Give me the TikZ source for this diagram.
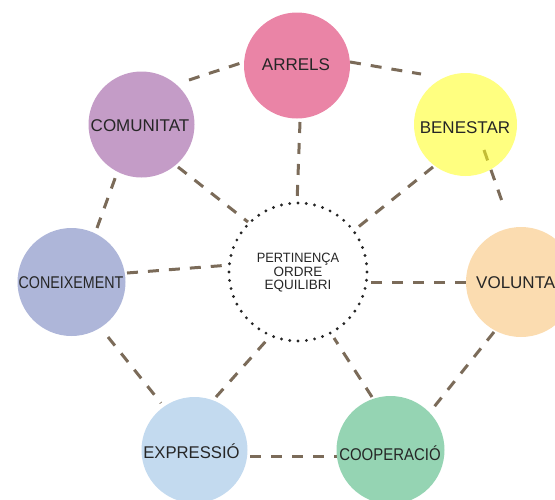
\documentclass[tikz,border=0pt]{standalone}
\usepackage{fontspec}
\setmainfont{Liberation Sans}
\definecolor{cArrels}{HTML}{EA84A6}
\definecolor{cComunitat}{HTML}{C49CC7}
\definecolor{cBenestar}{rgb}{1,1,0.094}
\definecolor{cVoluntat}{HTML}{FBDCB0}
\definecolor{cConeix}{HTML}{AEB6D9}
\definecolor{cExpressio}{HTML}{C3DAEF}
\definecolor{cCooper}{HTML}{95D4B3}
\definecolor{cLine}{HTML}{7B6B59}
\definecolor{cText}{HTML}{262626}
\tikzset{
  x=1pt, y=-1pt,
  bubble/.style={circle, minimum size=106pt, inner sep=0pt, draw=none},
  lbl/.style={anchor=base, inner sep=0pt, text=cText, font=\fontsize{17}{17}\selectfont},
  clbl/.style={anchor=base, inner sep=0pt, text=cText, font=\fontsize{13.5}{13.5}\selectfont},
  link/.style={draw=cLine, line width=3pt, dash pattern=on 11pt off 10pt},
  hub/.style={circle, minimum size=138pt, inner sep=0pt, draw=black!85, line width=3.2pt, line cap=round, dash pattern=on 0pt off 8.34pt}
}
\begin{document}
\begin{tikzpicture}
\useasboundingbox (0,0) rectangle (555,499);
\clip (0,0) rectangle (555,499);
% connector end points
\coordinate (l1a) at (189,80);   \coordinate (l1b) at (244,62);
\coordinate (l2a) at (350,62);   \coordinate (l2b) at (421,74);
\coordinate (l3a) at (484,150);  \coordinate (l3b) at (504,207);
\coordinate (l4a) at (494,332);  \coordinate (l4b) at (434,407);
\coordinate (l5a) at (250,456);  \coordinate (l5b) at (338,456);
\coordinate (l6a) at (108,337);  \coordinate (l6b) at (161,403);
\coordinate (l7a) at (97,228);   \coordinate (l7b) at (117,173);
\coordinate (s1a) at (300,122);  \coordinate (s1b) at (297,203);
\coordinate (s2a) at (433,167);  \coordinate (s2b) at (357,228);
\coordinate (s3a) at (466,282);  \coordinate (s3b) at (367,282);
\coordinate (s4a) at (372,397);  \coordinate (s4b) at (334,338);
\coordinate (s5a) at (216,397);  \coordinate (s5b) at (266,341);
\coordinate (s6a) at (127,273);  \coordinate (s6b) at (230,265);
\coordinate (s7a) at (178,167);  \coordinate (s7b) at (248,222);
% connectors
\foreach \n in {l1,l2,l3,l4,l5,l6,l7,s1,s2,s3,s4,s5,s6,s7}
  \draw[link] (\n a) -- (\n b);
% bubbles
\node[bubble, fill=cArrels] (arrels) at (297,65.5) {};
\node[bubble, fill=cComunitat] (comunitat) at (141.5,124.5) {};
\node[bubble, fill=cBenestar, fill opacity=0.55, minimum size=103pt] (benestar) at (465.5,124.5) {};
\node[bubble, fill=cVoluntat, minimum size=110pt] (voluntat) at (521,282) {};
\node[bubble, fill=cConeix, minimum size=108pt] (coneix) at (71.5,282) {};
\node[bubble, fill=cExpressio] (expressio) at (194.5,450) {};
\node[bubble, fill=cCooper, minimum size=108pt] (cooper) at (390.5,450) {};
\node[hub] (hub) at (298,272) {};
% labels
\node[lbl] (t-arrels) at (296,70) {ARRELS};
\node[lbl] (t-comunitat) at (140,131) {COMUNITAT};
\node[lbl] (t-benestar) at (465,133) {BENESTAR};
\node[lbl, anchor=base west] (t-voluntat) at (476,288) {VOLUNTA};
\node[lbl] (t-coneix) at (71,288) {\scalebox{0.84}[1]{CONEIXEMENT}};
\node[lbl] (t-expressio) at (191.5,458) {\scalebox{0.98}[1]{EXPRESSIÓ}};
\node[lbl] (t-cooper) at (390,460.5) {\scalebox{0.88}[1]{COOPERACIÓ}};
\node[clbl] (t-hub1) at (298,262.5) {\scalebox{0.95}[1]{PERTINENÇA}};
\node[clbl] (t-hub2) at (298,276) {ORDRE};
\node[clbl] (t-hub3) at (298,289.5) {EQUILIBRI};
\end{tikzpicture}
\end{document}
